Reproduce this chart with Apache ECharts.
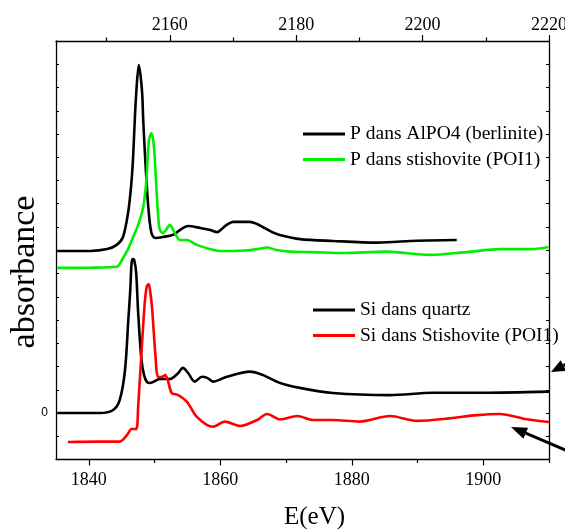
<!DOCTYPE html>
<html>
<head>
<meta charset="utf-8">
<script src="https://cdn.jsdelivr.net/npm/echarts@6/dist/echarts.min.js"></script>
<style>
  html, body { margin: 0; padding: 0; background: #fff; }
  #chart { width: 565px; height: 530px; }
</style>
</head>
<body>
<div id="chart"></div>
<script>
// P K-edge spectra (top axis, eV)
const pAlpo4 = [
  [2142.2, 0.697], [2147.4, 0.697], [2150.1, 0.705], [2151.6, 0.723], [2152.6, 0.757],
  [2153.4, 0.860], [2153.9, 0.981], [2154.2, 1.101], [2154.5, 1.282], [2154.8, 1.419],
  [2155.1, 1.497], [2155.6, 1.389], [2155.8, 1.260], [2156.1, 1.101], [2156.6, 0.886],
  [2157.1, 0.774], [2157.7, 0.753], [2158.9, 0.757], [2160.5, 0.766], [2161.6, 0.787],
  [2162.9, 0.804], [2164.8, 0.796], [2166.4, 0.787], [2167.5, 0.778], [2168.4, 0.796],
  [2169.0, 0.809], [2170.0, 0.822], [2171.1, 0.822], [2172.7, 0.822], [2173.8, 0.813],
  [2174.7, 0.800], [2176.2, 0.778], [2177.4, 0.766], [2180.6, 0.748], [2185.8, 0.740],
  [2192.8, 0.733], [2199.1, 0.741], [2205.4, 0.744]
];
const pStish = [
  [2142.2, 0.624], [2147.4, 0.625], [2151.6, 0.629], [2152.6, 0.667], [2153.4, 0.705],
  [2154.2, 0.757], [2155.0, 0.809], [2155.8, 0.886], [2156.3, 1.002], [2156.7, 1.174],
  [2157.1, 1.204], [2157.5, 1.144], [2157.9, 0.959], [2158.1, 0.873], [2158.4, 0.791],
  [2158.9, 0.774], [2159.5, 0.791], [2160.0, 0.809], [2160.8, 0.774], [2161.6, 0.744],
  [2162.7, 0.744], [2164.3, 0.723], [2166.3, 0.705], [2167.9, 0.697], [2170.0, 0.697],
  [2171.9, 0.699], [2173.8, 0.705], [2175.4, 0.712], [2176.9, 0.701], [2179.0, 0.694],
  [2182.6, 0.692], [2187.4, 0.688], [2194.3, 0.694], [2201.1, 0.680], [2207.0, 0.692],
  [2212.2, 0.705], [2217.4, 0.705], [2219.9, 0.714]
];
// Si K-edge spectra (bottom axis, eV)
const siQuartz = [
  [1835.2, 0.000], [1840.2, 0.000], [1841.7, 0.000], [1843.7, 0.013], [1844.7, 0.056],
  [1845.5, 0.185], [1846.0, 0.400], [1846.3, 0.529], [1846.5, 0.645], [1846.7, 0.662],
  [1846.9, 0.658], [1847.2, 0.602], [1847.5, 0.430], [1848.0, 0.228], [1848.4, 0.163],
  [1848.8, 0.135], [1849.3, 0.129], [1850.8, 0.146], [1852.3, 0.146], [1853.6, 0.172],
  [1854.3, 0.194], [1855.1, 0.172], [1856.1, 0.135], [1857.2, 0.156], [1858.0, 0.151],
  [1858.9, 0.135], [1861.0, 0.156], [1864.5, 0.178], [1866.5, 0.163], [1869.1, 0.129],
  [1872.1, 0.108], [1877.1, 0.086], [1885.8, 0.077], [1892.3, 0.087], [1899.9, 0.087],
  [1910.0, 0.092]
];
const siStish = [
  [1836.8, -0.125], [1841.7, -0.123], [1844.7, -0.123], [1845.8, -0.095], [1846.5, -0.069],
  [1847.2, -0.069], [1847.5, 0.027], [1848.0, 0.258], [1848.5, 0.473], [1848.8, 0.542],
  [1849.1, 0.555], [1849.3, 0.529], [1849.6, 0.457], [1850.1, 0.258], [1850.5, 0.156],
  [1851.1, 0.155], [1851.6, 0.163], [1852.0, 0.142], [1852.6, 0.086], [1853.6, 0.077],
  [1854.9, 0.049], [1856.4, -0.016], [1858.0, -0.052], [1858.9, -0.059], [1860.7, -0.037],
  [1863.0, -0.056], [1865.6, -0.030], [1867.1, -0.004], [1869.1, -0.027], [1871.7, -0.013],
  [1874.1, -0.030], [1877.1, -0.030], [1881.2, -0.037], [1885.8, -0.013], [1889.9, -0.034],
  [1894.9, -0.023], [1899.0, -0.009], [1902.5, -0.004], [1906.6, -0.027], [1910.0, -0.039]
];

const bottomMajor = [1840, 1860, 1880, 1900];
const bottomMinor = [1850, 1870, 1890, 1910];
const topMajor = [2160, 2180, 2200, 2220];
const topMinor = [2150, 2170, 2190, 2210];

const FONT = '"Liberation Serif", "DejaVu Serif", serif';
const line = { onZero: false, lineStyle: { color: '#000', width: 1.3 } };

function xAx(position, min, max, labels, ticks, len, showLine, margin) {
  return {
    type: 'value', position, min, max,
    axisLine: { show: showLine, ...line },
    splitLine: { show: false },
    axisTick: { show: true, customValues: ticks, length: len, lineStyle: { color: '#000', width: 1.2 } },
    axisLabel: labels
      ? { show: true, customValues: labels, color: '#000', fontFamily: FONT, fontSize: 18, margin,
          formatter: v => String(v) }
      : { show: false },
  };
}

const chart = echarts.init(document.getElementById('chart'));

const series = (name, data, color, xi) => ({
  name, type: 'line', data, xAxisIndex: xi, yAxisIndex: 0,
  showSymbol: false, symbol: 'none', smooth: 0.3,
  lineStyle: { color, width: 2.6 }, itemStyle: { color },
});

function arrow(tail, tip, head, half) {
  const dx = tip[0] - tail[0], dy = tip[1] - tail[1];
  const l = Math.hypot(dx, dy), ux = dx / l, uy = dy / l;
  const bx = tip[0] - ux * head, by = tip[1] - uy * head;
  return [
    { type: 'line', shape: { x1: tail[0], y1: tail[1], x2: bx, y2: by }, style: { stroke: '#000', lineWidth: 3 } },
    { type: 'polygon', shape: { points: [tip, [bx - uy * half, by + ux * half], [bx + uy * half, by - ux * half]] }, style: { fill: '#000' } },
  ];
}

const legendBase = {
  orient: 'vertical', icon: 'rect', itemWidth: 42, itemHeight: 3, itemGap: 5.5,
  textStyle: { color: '#000', fontFamily: FONT, fontSize: 19.5 },
};

chart.setOption({
  backgroundColor: '#fff',
  animation: false,
  grid: { left: 56, right: 16, top: 41, bottom: 70.5, outerBoundsMode: 'none', containLabel: false },
  xAxis: [
    { ...xAx('bottom', 1835, 1910, bottomMajor, bottomMajor, 6, true, 12),
      name: 'E(eV)', nameLocation: 'middle', nameGap: 45,
      nameTextStyle: { color: '#000', fontFamily: FONT, fontSize: 25, padding: [0, 0, 0, 24] } },
    xAx('bottom', 1835, 1910, null, bottomMinor, 3.5, false, 0),
    xAx('top', 2142, 2220, topMajor, topMajor, 6, true, 7),
    xAx('top', 2142, 2220, null, topMinor, 3.5, false, 0),
  ],
  yAxis: [
    {
      type: 'value', position: 'left', min: -0.2, max: 1.6, interval: 0.1,
      axisLine: { show: true, ...line },
      splitLine: { show: false },
      axisTick: { show: true, inside: true, length: 3, lineStyle: { color: '#000', width: 1 } },
      axisLabel: {
        color: '#000', fontFamily: 'Liberation Sans, Arial, sans-serif', fontSize: 12, margin: 8,
        formatter: v => (Math.abs(v) < 1e-9 ? '0' : ''),
      },
    },
    {
      type: 'value', position: 'right', min: -0.2, max: 1.6, interval: 0.1,
      axisLine: { show: true, ...line },
      splitLine: { show: false },
      axisTick: { show: true, inside: true, length: 3, lineStyle: { color: '#000', width: 1 } },
      axisLabel: { show: false },
    },
  ],
  legend: [
    { ...legendBase, left: 298, top: 119, data: ['P dans AlPO4 (berlinite)', 'P dans stishovite (POI1)'] },
    { ...legendBase, left: 308, top: 295, data: ['Si dans quartz', 'Si dans Stishovite (POI1)'] },
  ],
  series: [
    series('P dans AlPO4 (berlinite)', pAlpo4, '#000000', 2),
    series('P dans stishovite (POI1)', pStish, '#00ee00', 2),
    series('Si dans quartz', siQuartz, '#000000', 0),
    series('Si dans Stishovite (POI1)', siStish, '#ff0000', 0),
  ],
  graphic: [
    {
      type: 'text', x: 25, y: 272, rotation: Math.PI / 2,
      style: { text: 'absorbance', fill: '#000', font: '34px "Liberation Serif", serif',
               textAlign: 'center', textVerticalAlign: 'middle' },
    },
    ...arrow([578, 358], [551, 372], 14, 6),
    ...arrow([570, 452], [511, 427], 16, 6),
  ],
});
</script>
</body>
</html>
